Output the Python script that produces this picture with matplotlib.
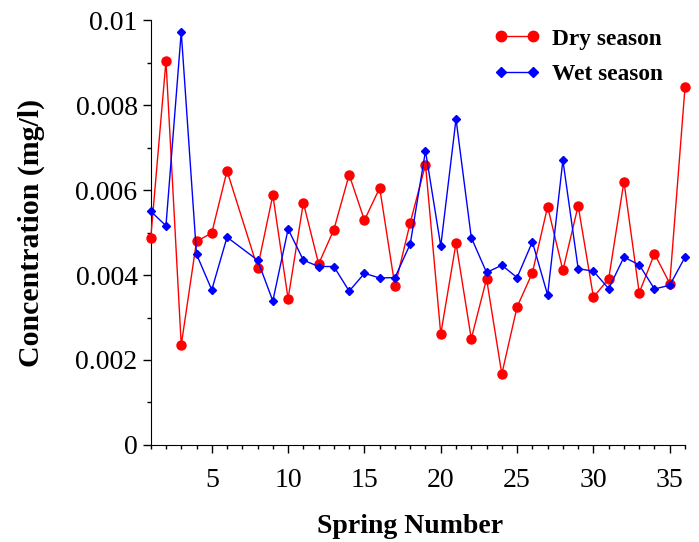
import matplotlib.pyplot as plt
from matplotlib.ticker import MultipleLocator

# spring 7 has no sample
springs = [1, 2, 3, 4, 5, 6, 8, 9, 10, 11, 12, 13, 14, 15, 16, 17, 18, 19, 20,
           21, 22, 23, 24, 25, 26, 27, 28, 29, 30, 31, 32, 33, 34, 35, 36]
dry = [0.00486, 0.00904, 0.00235, 0.00479, 0.00499, 0.00645, 0.00417, 0.00588,
       0.00344, 0.00570, 0.00426, 0.00507, 0.00636, 0.00529, 0.00605, 0.00373,
       0.00523, 0.00660, 0.00261, 0.00475, 0.00250, 0.00391, 0.00167, 0.00325,
       0.00405, 0.00561, 0.00411, 0.00563, 0.00348, 0.00391, 0.00620, 0.00358,
       0.00450, 0.00380, 0.00842]
wet = [0.00550, 0.00516, 0.00972, 0.00449, 0.00365, 0.00489, 0.00435, 0.00339,
       0.00508, 0.00435, 0.00420, 0.00420, 0.00362, 0.00404, 0.00393, 0.00394,
       0.00473, 0.00692, 0.00468, 0.00767, 0.00488, 0.00406, 0.00423, 0.00394,
       0.00478, 0.00353, 0.00670, 0.00415, 0.00409, 0.00368, 0.00442, 0.00424,
       0.00367, 0.00376, 0.00442]
yticks = [0, 0.002, 0.004, 0.006, 0.008, 0.01]
ylabels = ['0', '0.002', '0.004', '0.006', '0.008', '0.01']

plt.rcParams['font.family'] = 'Liberation Serif'

fig = plt.figure(figsize=(6.99, 5.42), dpi=100)
ax = fig.add_axes([0.2156, 0.179, 0.7644, 0.784])

ax.plot(springs, dry, color='red', marker='o', markersize=6.5, linewidth=1,
        label='Dry season', clip_on=False, zorder=3)
ax.plot(springs, wet, color='blue', marker='D', markersize=4.5, linewidth=1,
        label='Wet season', clip_on=False, zorder=3)

ax.set_xlim(1, 36)
ax.set_ylim(0, 0.01)
ax.xaxis.set_major_locator(MultipleLocator(5))
ax.xaxis.set_minor_locator(MultipleLocator(1))
ax.yaxis.set_minor_locator(MultipleLocator(0.001))
ax.set_yticks(yticks)
ax.set_yticklabels(ylabels)

ax.spines['top'].set_visible(False)
ax.spines['right'].set_visible(False)
ax.tick_params(axis='both', which='major', direction='out', length=5.5,
               labelsize=20, width=1)
ax.tick_params(axis='both', which='minor', direction='out', length=3, width=1)
ax.tick_params(axis='x', pad=11)
ax.tick_params(axis='y', pad=4)

ax.set_xlabel('Spring Number', fontsize=20, fontweight='bold')
ax.xaxis.set_label_coords(0.485, -0.163)
ax.set_ylabel('Concentration (mg/l)', fontsize=21.5, fontweight='bold',
              labelpad=22)

ax.legend(loc='upper left', frameon=False, numpoints=2, handlelength=2.0,
          prop={'weight': 'bold', 'size': 16.8}, borderaxespad=0,
          labelspacing=0.6, markerscale=1.15, handletextpad=0.5,
          bbox_to_anchor=(0.693, 0.965), bbox_transform=fig.transFigure)

plt.savefig('out.png', dpi=100)
